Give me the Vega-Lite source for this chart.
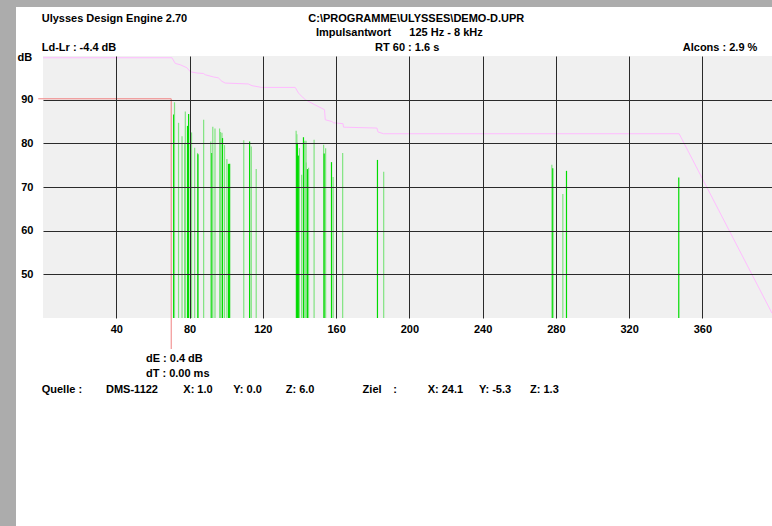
{
  "$schema": "https://vega.github.io/schema/vega-lite/v6.json",
  "background": "white",
  "padding": 0,
  "config": {
    "view": {"stroke": null},
    "font": "Liberation Sans",
    "text": {"font": "Liberation Sans", "fontWeight": "bold", "fontSize": 11, "color": "#000000"}
  },
  "datasets": {
    "bars": [
      {"ms": 71.3, "db": 86.6, "shade": "dark"},
      {"ms": 71.8, "db": 89.4, "shade": "light"},
      {"ms": 74.0, "db": 84.7, "shade": "light"},
      {"ms": 75.9, "db": 81.6, "shade": "light"},
      {"ms": 77.3, "db": 80.1, "shade": "light"},
      {"ms": 77.7, "db": 87.3, "shade": "light"},
      {"ms": 78.9, "db": 84.0, "shade": "dark"},
      {"ms": 79.5, "db": 86.7, "shade": "dark"},
      {"ms": 81.1, "db": 82.5, "shade": "light"},
      {"ms": 82.8, "db": 79.0, "shade": "light"},
      {"ms": 84.4, "db": 77.8, "shade": "light"},
      {"ms": 84.6, "db": 77.5, "shade": "dark"},
      {"ms": 87.7, "db": 85.4, "shade": "light"},
      {"ms": 91.6, "db": 80.4, "shade": "light"},
      {"ms": 92.2, "db": 77.8, "shade": "dark"},
      {"ms": 92.7, "db": 83.8, "shade": "light"},
      {"ms": 93.9, "db": 83.4, "shade": "light"},
      {"ms": 96.4, "db": 83.4, "shade": "light"},
      {"ms": 96.9, "db": 82.6, "shade": "light"},
      {"ms": 97.7, "db": 82.4, "shade": "light"},
      {"ms": 98.0, "db": 81.2, "shade": "dark"},
      {"ms": 99.1, "db": 79.6, "shade": "light"},
      {"ms": 100.4, "db": 76.4, "shade": "light"},
      {"ms": 101.3, "db": 75.3, "shade": "dark"},
      {"ms": 101.9, "db": 75.3, "shade": "dark"},
      {"ms": 109.6, "db": 80.7, "shade": "light"},
      {"ms": 112.8, "db": 80.4, "shade": "dark"},
      {"ms": 113.7, "db": 79.3, "shade": "light"},
      {"ms": 116.4, "db": 74.1, "shade": "light"},
      {"ms": 138.2, "db": 82.9, "shade": "light"},
      {"ms": 138.6, "db": 82.1, "shade": "light"},
      {"ms": 138.5, "db": 80.1, "shade": "dark"},
      {"ms": 138.9, "db": 80.1, "shade": "dark"},
      {"ms": 139.5, "db": 77.2, "shade": "dark"},
      {"ms": 140.0, "db": 78.9, "shade": "light"},
      {"ms": 141.2, "db": 72.8, "shade": "light"},
      {"ms": 142.2, "db": 81.4, "shade": "dark"},
      {"ms": 142.9, "db": 80.6, "shade": "light"},
      {"ms": 143.6, "db": 80.6, "shade": "light"},
      {"ms": 143.7, "db": 75.6, "shade": "light"},
      {"ms": 144.4, "db": 74.1, "shade": "dark"},
      {"ms": 145.0, "db": 74.4, "shade": "light"},
      {"ms": 148.0, "db": 80.8, "shade": "light"},
      {"ms": 153.2, "db": 79.7, "shade": "light"},
      {"ms": 153.5, "db": 77.7, "shade": "dark"},
      {"ms": 154.3, "db": 78.9, "shade": "light"},
      {"ms": 157.5, "db": 75.7, "shade": "dark"},
      {"ms": 158.4, "db": 72.3, "shade": "light"},
      {"ms": 163.6, "db": 77.8, "shade": "light"},
      {"ms": 182.6, "db": 76.2, "shade": "dark"},
      {"ms": 186.0, "db": 73.5, "shade": "light"},
      {"ms": 277.8, "db": 75.1, "shade": "light"},
      {"ms": 278.3, "db": 74.3, "shade": "dark"},
      {"ms": 283.8, "db": 68.4, "shade": "light"},
      {"ms": 285.8, "db": 73.7, "shade": "dark"},
      {"ms": 347.1, "db": 72.2, "shade": "dark"}
    ],
    "decay": [
      {"ms": 0.0, "db": 99.6},
      {"ms": 70.4, "db": 99.6},
      {"ms": 72.2, "db": 98.3},
      {"ms": 74.9, "db": 98.0},
      {"ms": 78.6, "db": 97.3},
      {"ms": 80.4, "db": 96.4},
      {"ms": 84.1, "db": 96.1},
      {"ms": 87.5, "db": 96.0},
      {"ms": 88.6, "db": 95.7},
      {"ms": 93.1, "db": 95.2},
      {"ms": 95.7, "db": 95.0},
      {"ms": 97.7, "db": 94.2},
      {"ms": 99.5, "db": 93.8},
      {"ms": 112.1, "db": 93.6},
      {"ms": 114.1, "db": 93.2},
      {"ms": 119.5, "db": 92.8},
      {"ms": 137.7, "db": 92.8},
      {"ms": 139.5, "db": 91.5},
      {"ms": 142.1, "db": 90.4},
      {"ms": 143.2, "db": 90.0},
      {"ms": 148.1, "db": 88.9},
      {"ms": 153.7, "db": 87.7},
      {"ms": 154.1, "db": 85.4},
      {"ms": 157.7, "db": 85.0},
      {"ms": 158.6, "db": 84.7},
      {"ms": 163.8, "db": 84.5},
      {"ms": 164.1, "db": 83.7},
      {"ms": 182.3, "db": 83.5},
      {"ms": 182.9, "db": 82.6},
      {"ms": 185.9, "db": 82.2},
      {"ms": 347.3, "db": 82.2},
      {"ms": 398.0, "db": 41.1}
    ],
    "cursor": [
      {"seq": 1, "ms": -2.6, "db": 90.2},
      {"seq": 2, "ms": 70.0, "db": 90.2},
      {"seq": 3, "ms": 70.0, "db": 32.9}
    ],
    "notes_left": [
      {"ms": -0.7, "db": 108.9, "text": "Ulysses Design Engine 2.70"},
      {"ms": 149.0, "db": 105.5, "text": "Impulsantwort"},
      {"ms": 200.0, "db": 105.5, "text": "125 Hz - 8 kHz"},
      {"ms": -0.7, "db": 102.2, "text": "Ld-Lr : -4.4 dB"},
      {"ms": 181.3, "db": 102.2, "text": "RT 60 : 1.6 s"},
      {"ms": 56.2, "db": 30.9, "text": "dE : 0.4 dB"},
      {"ms": 56.2, "db": 27.6, "text": "dT : 0.00 ms"},
      {"ms": -0.7, "db": 23.9, "text": "Quelle :"},
      {"ms": 34.4, "db": 23.9, "text": "DMS-1122"},
      {"ms": 76.6, "db": 23.9, "text": "X: 1.0"},
      {"ms": 103.9, "db": 23.9, "text": "Y: 0.0"},
      {"ms": 132.5, "db": 23.9, "text": "Z: 6.0"},
      {"ms": 174.5, "db": 23.9, "text": "Ziel"},
      {"ms": 191.2, "db": 23.9, "text": ":"},
      {"ms": 210.0, "db": 23.9, "text": "X: 24.1"},
      {"ms": 238.0, "db": 23.9, "text": "Y: -5.3"},
      {"ms": 265.9, "db": 23.9, "text": "Z: 1.3"}
    ],
    "notes_center": [
      {"ms": 203.8, "db": 108.9, "text": "C:\\PROGRAMME\\ULYSSES\\DEMO-D.UPR"}
    ],
    "notes_right": [
      {"ms": 390.0, "db": 102.2, "text": "Alcons : 2.9 %"}
    ]
  },
  "spacing": 0,
  "bounds": "flush",
  "vconcat": [
    {
      "width": 772,
      "height": 7,
      "view": {"fill": "#acacac", "stroke": null},
      "data": {"values": []},
      "mark": "rect",
      "encoding": {}
    },
    {
      "spacing": 27,
      "bounds": "flush",
      "hconcat": [
        {
          "width": 16,
          "height": 519,
          "view": {"fill": "#acacac", "stroke": null},
          "data": {"values": []},
          "mark": "rect",
          "encoding": {}
        },
        {
          "spacing": 48,
          "bounds": "flush",
          "vconcat": [
            {
              "width": 729,
              "height": 1,
              "view": {"fill": null, "stroke": null},
              "data": {"values": []},
              "mark": "rect",
              "encoding": {}
            },
            {
              "width": 729,
              "height": 262,
              "view": {"fill": "#f0f0f0", "stroke": null},
              "encoding": {
                "x": {
                  "field": "ms",
                  "type": "quantitative",
                  "scale": {"domain": [0, 398], "nice": false, "zero": false},
                  "axis": {
                    "values": [40, 80, 120, 160, 200, 240, 280, 320, 360],
                    "title": null,
                    "grid": true,
                    "gridColor": "#2a2a2a",
                    "gridOpacity": 1,
                    "gridWidth": 1,
                    "domain": false,
                    "ticks": false,
                    "labelPadding": 5,
                    "labelDx": -3,
                    "labelFont": "Liberation Sans",
                    "labelFontWeight": "bold",
                    "labelFontSize": 11,
                    "labelColor": "#000000",
                    "zindex": 1
                  }
                },
                "y": {
                  "field": "db",
                  "type": "quantitative",
                  "scale": {"domain": [40, 100], "nice": false, "zero": false},
                  "axis": {
                    "values": [50, 60, 70, 80, 90],
                    "title": "dB",
                    "titleAngle": 0,
                    "titleX": -26,
                    "titleY": 1,
                    "titleAlign": "left",
                    "titleBaseline": "middle",
                    "titleFont": "Liberation Sans",
                    "titleFontWeight": "bold",
                    "titleFontSize": 11,
                    "titleColor": "#000000",
                    "grid": true,
                    "gridColor": "#2a2a2a",
                    "gridOpacity": 1,
                    "gridWidth": 1,
                    "domain": false,
                    "ticks": false,
                    "labelPadding": 10,
                    "labelFont": "Liberation Sans",
                    "labelFontWeight": "bold",
                    "labelFontSize": 11,
                    "labelColor": "#000000",
                    "zindex": 1
                  }
                }
              },
              "layer": [
                {
                  "data": {"name": "bars"},
                  "mark": {"type": "rule", "strokeWidth": 1.2, "clip": true},
                  "encoding": {
                    "y2": {"datum": 40},
                    "color": {
                      "field": "shade",
                      "type": "nominal",
                      "scale": {"domain": ["dark", "light"], "range": ["#00dc00", "#80e480"]},
                      "legend": null
                    }
                  }
                },
                {
                  "data": {"name": "decay"},
                  "mark": {"type": "line", "color": "#ffbcff", "strokeWidth": 1, "clip": true},
                  "encoding": {}
                },
                {
                  "data": {"name": "cursor"},
                  "mark": {"type": "line", "color": "#f08080", "strokeWidth": 1, "clip": false},
                  "encoding": {"order": {"field": "seq", "type": "quantitative"}}
                },
                {
                  "data": {"name": "notes_left"},
                  "mark": {"type": "text", "align": "left", "baseline": "middle", "dy": 1.5, "clip": false},
                  "encoding": {"text": {"field": "text", "type": "nominal"}}
                },
                {
                  "data": {"name": "notes_center"},
                  "mark": {"type": "text", "align": "center", "baseline": "middle", "dy": 1.5, "clip": false},
                  "encoding": {"text": {"field": "text", "type": "nominal"}}
                },
                {
                  "data": {"name": "notes_right"},
                  "mark": {"type": "text", "align": "right", "baseline": "middle", "dy": 1.5, "clip": false},
                  "encoding": {"text": {"field": "text", "type": "nominal"}}
                }
              ]
            }
          ]
        }
      ]
    }
  ]
}
